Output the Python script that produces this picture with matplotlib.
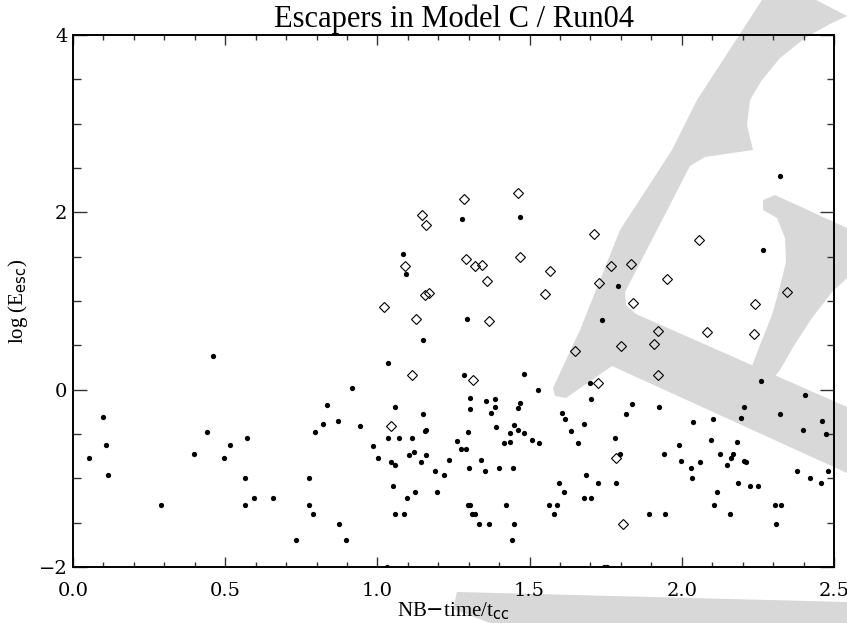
import matplotlib
matplotlib.use("Agg")
import matplotlib.pyplot as plt
from matplotlib.patches import Polygon
from matplotlib.ticker import MultipleLocator

# ---------------- data ----------------
dot_x = [0.054, 0.099, 0.109, 0.116, 0.288, 0.396, 0.439, 0.459, 0.495, 0.515,
         0.573, 0.565, 0.565, 0.595, 0.657, 0.731, 0.774, 0.774, 0.787, 0.794,
         0.821, 0.833, 0.871, 0.873,
         1.149, 1.035, 0.918, 0.942, 1.057, 1.149, 1.160, 1.156, 1.035, 1.071,
         1.114, 0.986, 1.002, 1.046, 1.058, 1.103, 1.120, 1.142, 1.159, 1.052,
         1.124, 1.096, 1.057, 1.086, 0.897, 1.190, 1.219, 1.235, 1.196, 1.260,
         1.276, 1.291, 1.298, 1.286, 1.304, 1.304, 1.357, 1.387, 1.387, 1.374,
         1.389, 1.300, 1.341, 1.353, 1.401, 1.447, 1.296, 1.304, 1.312, 1.321,
         1.333, 1.367, 1.422, 1.448, 1.442, 1.417, 1.437, 1.435, 1.450, 1.462,
         1.482, 1.461, 1.468, 1.482, 1.527, 1.509, 1.530, 1.605, 1.615, 1.637,
         1.660, 1.679, 1.598, 1.612, 1.563, 1.590, 1.579, 1.684, 1.724, 1.680,
         1.701, 1.697, 1.702, 1.030, 1.745, 1.755,
         1.279, 1.468, 1.084, 1.094, 1.293, 1.737,
         2.324, 2.268, 1.791,
         2.260, 2.405, 1.835, 1.818, 1.924, 2.204, 2.193, 2.324, 2.460, 2.397,
         2.474, 2.036, 2.102, 1.781, 1.797, 1.941, 1.990, 1.998, 2.030, 2.035,
         2.059, 2.097, 2.125, 2.147, 2.162, 2.167, 2.181, 2.204, 2.212, 2.184,
         2.225, 2.251, 2.115, 2.106, 2.159, 1.893, 1.946, 1.784, 2.305, 2.325,
         2.308, 2.377, 2.420, 2.457, 2.479]
dot_y = [-0.77, -0.31, -0.62, -0.96, -1.30, -0.72, -0.48, 0.376, -0.77, -0.62,
         -0.54, -1.00, -1.30, -1.22, -1.22, -1.70, -1.00, -1.30, -1.40, -0.48,
         -0.39, -0.17, -0.35, -1.52,
         0.564, 0.30, 0.015, -0.41, -0.19, -0.28, -0.45, -0.47, -0.55, -0.54,
         -0.55, -0.64, -0.77, -0.82, -0.85, -0.74, -0.70, -0.82, -0.74, -1.09,
         -1.15, -1.22, -1.40, -1.40, -1.70, -0.92, -0.96, -0.79, -1.15, -0.58,
         -0.67, -0.67, -0.48, 0.17, -0.09, -0.22, -0.13, -0.105, -0.19, -0.26,
         -0.42, -0.88, -0.79, -0.92, -0.88, -0.88, -1.30, -1.30, -1.40, -1.40,
         -1.52, -1.52, -1.30, -1.52, -1.70, -0.60, -0.59, -0.49, -0.40, -0.45,
         -0.49, -0.21, -0.15, 0.18, 0.00, -0.57, -0.60, -0.26, -0.33, -0.47,
         -0.60, -0.39, -1.05, -1.15, -1.30, -1.30, -1.40, -0.96, -1.05, -1.22,
         -1.22, 0.07, -0.10, -2.00, -2.00, -2.00,
         1.925, 1.95, 1.53, 1.30, 0.80, 0.79,
         2.41, 1.575, 1.17,
         0.095, -0.06, -0.16, -0.27, -0.20, -0.19, -0.32, -0.28, -0.35, -0.45,
         -0.50, -0.36, -0.33, -0.54, -0.72, -0.72, -0.62, -0.80, -0.88, -1.00,
         -0.82, -0.57, -0.72, -0.85, -0.77, -0.72, -0.59, -0.80, -0.82, -1.05,
         -1.09, -1.09, -1.15, -1.30, -1.40, -1.40, -1.40, -1.05, -1.30, -1.30,
         -1.52, -0.92, -1.00, -1.05, -0.92]

dia_x = [1.113, 1.314, 1.046, 1.649, 1.724, 1.286, 1.463, 1.148, 1.161, 1.713,
         1.090, 1.291, 1.320, 1.343, 1.469, 1.566, 1.360, 1.727, 1.767, 1.155,
         1.169, 1.552, 1.021, 1.126, 1.366, 2.058, 1.832, 1.953, 1.840, 2.344,
         2.240, 1.921, 2.083, 2.236, 1.909, 1.799, 1.921, 1.783, 1.808]
dia_y = [0.17, 0.11, -0.41, 0.44, 0.07, 2.15, 2.22, 1.97, 1.86, 1.76,
         1.39, 1.47, 1.39, 1.41, 1.50, 1.34, 1.22, 1.20, 1.39, 1.07,
         1.09, 1.08, 0.93, 0.80, 0.78, 1.69, 1.42, 1.25, 0.98, 1.10,
         0.97, 0.66, 0.65, 0.63, 0.52, 0.49, 0.165, -0.77, -1.52]

title = "Escapers in Model C / Run04"
xlabel = r"NB$-$time/t$_{\rm cc}$"
ylabel = r"log (E$_{\rm esc}$)"
xticks = [0.0, 0.5, 1.0, 1.5, 2.0, 2.5]
xticklabels = ["0.0", "0.5", "1.0", "1.5", "2.0", "2.5"]
yticks = [-2, 0, 2, 4]
yticklabels = ["\u22122", "0", "2", "4"]

# ---------------- figure ----------------
W, H = 847, 623
fig = plt.figure(figsize=(W / 100, H / 100), dpi=100)
fig.patch.set_facecolor("white")

GRAY = "#d8d8d8"

def px(pts):
    return [(x / W, 1 - y / H) for x, y in pts]

wm_shapes = [
    # spine + lower arm
    [(762, 0), (816, 0), (847, 16), (830, 24), (805, 38), (780, 58),
     (762, 80), (750, 100), (747, 125), (753, 150), (705, 157), (690, 166),
     (625, 292), (626, 305), (636, 314), (847, 407), (847, 473),
     (612, 366), (566, 398), (555, 396), (553, 388), (580, 330), (596, 290),
     (620, 230), (672, 150), (697, 100)],
    # upper arm + curved stroke
    [(763, 200), (775, 195), (847, 228), (847, 278), (832, 292), (812, 318),
     (795, 344), (780, 370), (775, 376), (752, 366), (760, 345), (772, 315),
     (779, 290), (786, 262), (785, 238), (777, 218), (763, 210)],
    # bottom piece below axes
    [(457, 592), (847, 602), (847, 623), (490, 623), (453, 609)],
]
for shp in wm_shapes:
    fig.add_artist(Polygon(px(shp), closed=True, transform=fig.transFigure,
                           facecolor=GRAY, edgecolor="none", zorder=-5))

ax = fig.add_axes([73 / W, 1 - 567 / H, (834 - 73) / W, (567 - 35) / H])
ax.set_facecolor("none")

ax.plot(dot_x, dot_y, "o", color="black", markersize=3.8, markeredgewidth=0,
        zorder=3)
ax.plot(dia_x, dia_y, "D", markerfacecolor="none", markeredgecolor="black",
        markersize=5.6, markeredgewidth=0.8, zorder=3)

ax.set_xlim(0, 2.5)
ax.set_ylim(-2, 4)
ax.set_xticks(xticks)
ax.set_xticklabels(xticklabels)
ax.set_yticks(yticks)
ax.set_yticklabels(yticklabels)
ax.xaxis.set_minor_locator(MultipleLocator(0.1))
ax.yaxis.set_minor_locator(MultipleLocator(0.5))

for lab in ax.get_xticklabels() + ax.get_yticklabels():
    lab.set_fontfamily("DejaVu Serif")
    lab.set_fontsize(14)

ax.tick_params(axis="both", which="both", direction="in", top=True,
               right=True, color="#333333", width=1.0)
ax.tick_params(axis="x", which="major", length=7, pad=11)
ax.tick_params(axis="x", which="minor", length=3.6)
ax.tick_params(axis="y", which="major", length=10, pad=4)
ax.tick_params(axis="y", which="minor", length=5.4)
for sp in ax.spines.values():
    sp.set_linewidth(1.4)
    sp.set_color("black")

ax.set_title(title, family="Liberation Serif", fontsize=22, pad=6)
ax.set_xlabel(xlabel, family="Liberation Serif", fontsize=15, labelpad=0)
ax.set_ylabel(ylabel, family="Liberation Serif", fontsize=15, labelpad=6)

fig.savefig("out.png", dpi=100)
